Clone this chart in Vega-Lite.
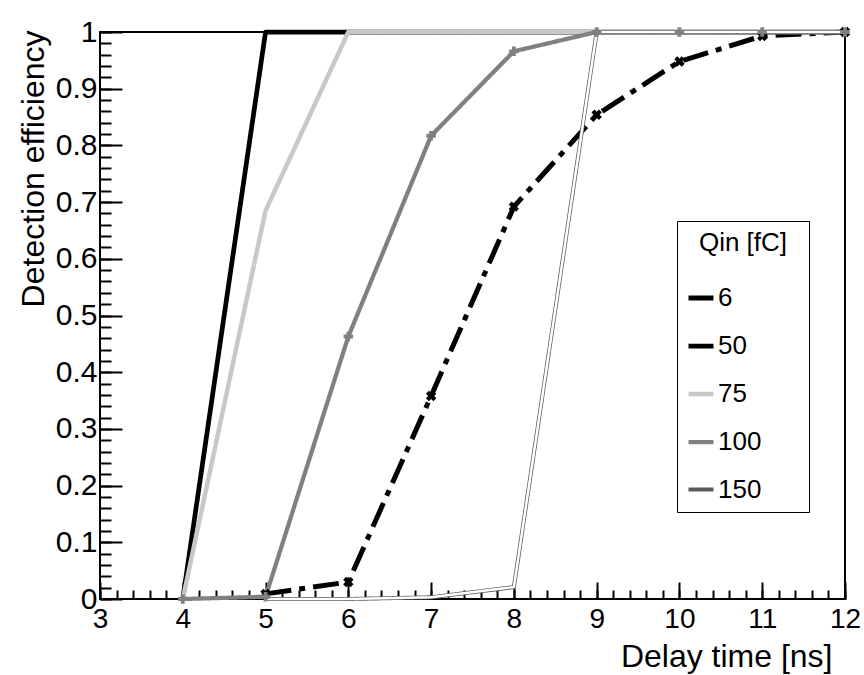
{
  "$schema": "https://vega.github.io/schema/vega-lite/v6.json",
  "width": 745,
  "height": 567,
  "autosize": "none",
  "padding": {"left": 100, "top": 32, "right": 19, "bottom": 76},
  "background": "white",
  "config": {
    "font": "Liberation Sans",
    "view": {"stroke": "black", "strokeWidth": 2}
  },
  "data": {
    "values": [
      {"series": "6", "x": 5, "y": 0.009},
      {"series": "6", "x": 6, "y": 0.03},
      {"series": "6", "x": 7, "y": 0.358},
      {"series": "6", "x": 8, "y": 0.692},
      {"series": "6", "x": 9, "y": 0.854},
      {"series": "6", "x": 10, "y": 0.948},
      {"series": "6", "x": 11, "y": 0.993},
      {"series": "6", "x": 12, "y": 1.0},
      {"series": "50", "x": 4, "y": 0},
      {"series": "50", "x": 5, "y": 1},
      {"series": "50", "x": 6, "y": 1},
      {"series": "50", "x": 7, "y": 1},
      {"series": "50", "x": 8, "y": 1},
      {"series": "50", "x": 9, "y": 1},
      {"series": "50", "x": 10, "y": 1},
      {"series": "50", "x": 11, "y": 1},
      {"series": "50", "x": 12, "y": 1},
      {"series": "75", "x": 4, "y": 0},
      {"series": "75", "x": 5, "y": 0.685},
      {"series": "75", "x": 6, "y": 1},
      {"series": "75", "x": 7, "y": 1},
      {"series": "75", "x": 8, "y": 1},
      {"series": "75", "x": 9, "y": 1},
      {"series": "75", "x": 10, "y": 1},
      {"series": "75", "x": 11, "y": 1},
      {"series": "75", "x": 12, "y": 1},
      {"series": "100", "x": 4, "y": 0},
      {"series": "100", "x": 5, "y": 0.004},
      {"series": "100", "x": 6, "y": 0.463},
      {"series": "100", "x": 7, "y": 0.817},
      {"series": "100", "x": 8, "y": 0.966},
      {"series": "100", "x": 9, "y": 1},
      {"series": "100", "x": 10, "y": 1},
      {"series": "100", "x": 11, "y": 1},
      {"series": "100", "x": 12, "y": 1},
      {"series": "150", "x": 5, "y": 0},
      {"series": "150", "x": 6, "y": 0},
      {"series": "150", "x": 7, "y": 0.003},
      {"series": "150", "x": 8, "y": 0.021},
      {"series": "150", "x": 9, "y": 1},
      {"series": "150", "x": 10, "y": 1},
      {"series": "150", "x": 11, "y": 1},
      {"series": "150", "x": 12, "y": 1}
    ]
  },
  "resolve": {"axis": {"x": "independent", "y": "independent"}},
  "layer": [
    {
      "mark": {"type": "line", "strokeCap": "butt", "strokeJoin": "round"},
      "encoding": {
        "x": {
          "field": "x", "type": "quantitative",
          "scale": {"domain": [3, 12], "nice": false, "zero": false},
          "axis": {
            "orient": "bottom", "title": null, "labels": false, "domain": false, "grid": false,
            "values": [3,3.2,3.4,3.6,3.8,4,4.2,4.4,4.6,4.8,5,5.2,5.4,5.6,5.8,6,6.2,6.4,6.6,6.8,7,7.2,7.4,7.6,7.8,8,8.2,8.4,8.6,8.8,9,9.2,9.4,9.6,9.8,10,10.2,10.4,10.6,10.8,11,11.2,11.4,11.6,11.8,12],
            "tickSize": -9, "tickWidth": 2, "tickColor": "black"
          }
        },
        "y": {
          "field": "y", "type": "quantitative",
          "scale": {"domain": [0, 1], "nice": false},
          "axis": {
            "orient": "left", "title": null, "labels": false, "domain": false, "grid": false,
            "values": [0,0.02,0.04,0.06,0.08,0.1,0.12,0.14,0.16,0.18,0.2,0.22,0.24,0.26,0.28,0.3,0.32,0.34,0.36,0.38,0.4,0.42,0.44,0.46,0.48,0.5,0.52,0.54,0.56,0.58,0.6,0.62,0.64,0.66,0.68,0.7,0.72,0.74,0.76,0.78,0.8,0.82,0.84,0.86,0.88,0.9,0.92,0.94,0.96,0.98,1],
            "tickSize": -11, "tickWidth": 2, "tickColor": "black"
          }
        },
        "color": {
          "field": "series", "type": "nominal",
          "scale": {"domain": ["6", "50", "75", "100", "150"], "range": ["#000000", "#000000", "#c8c8c8", "#808080", "#5c5c5c"]},
          "legend": {
            "orient": "none", "legendX": 577, "legendY": 189,
            "title": "Qin [fC]", "titleFontSize": 26, "titleFontWeight": "normal", "titleColor": "black",
            "titleAnchor": "middle", "titlePadding": 27,
            "labelFontSize": 26, "labelColor": "black", "labelOffset": 2,
            "labelExpr": "datum.label + '\u2800\u2800'",
            "symbolType": "stroke", "symbolSize": 625, "symbolStrokeWidth": 4,
            "rowPadding": 20, "padding": 9,
            "strokeColor": "black", "fillColor": "white"
          }
        },
        "strokeDash": {
          "field": "series", "type": "nominal",
          "scale": {"domain": ["6", "50", "75", "100", "150"], "range": [[26, 8, 6, 8], [1, 0], [1, 0], [1, 0], [1, 0]]},
          "legend": {
            "orient": "none", "legendX": 577, "legendY": 189,
            "title": "Qin [fC]"
          }
        },
        "strokeWidth": {
          "field": "series", "type": "nominal",
          "scale": {"domain": ["6", "50", "75", "100", "150"], "range": [5, 4, 4, 4, 6]},
          "legend": null
        }
      }
    },
    {
      "transform": [{"filter": "datum.series == '150'"}],
      "mark": {"type": "line", "color": "white", "strokeWidth": 2.5, "strokeJoin": "round"},
      "encoding": {
        "x": {
          "field": "x", "type": "quantitative",
          "axis": {
            "orient": "bottom", "title": null, "labels": false, "domain": false, "grid": false,
            "values": [3,4,5,6,7,8,9,10,11,12],
            "tickSize": -17, "tickWidth": 2, "tickColor": "black"
          }
        },
        "y": {
          "field": "y", "type": "quantitative",
          "axis": {
            "orient": "left", "title": null, "labels": false, "domain": false, "grid": false,
            "values": [0,0.1,0.2,0.3,0.4,0.5,0.6,0.7,0.8,0.9,1],
            "tickSize": -22, "tickWidth": 2, "tickColor": "black"
          }
        }
      }
    },
    {
      "transform": [{"filter": "datum.series == '6'"}],
      "mark": {"type": "point", "shape": "cross", "angle": 45, "filled": true, "color": "black", "size": 110, "opacity": 1},
      "encoding": {
        "x": {
          "field": "x", "type": "quantitative",
          "axis": {
            "orient": "bottom", "ticks": false, "domain": false, "grid": false,
            "values": [3,4,5,6,7,8,9,10,11,12],
            "labelFontSize": 28, "labelPadding": 6, "labelColor": "black", "labelFlush": false, "labelOverlap": false,
            "title": "Delay time [ns]", "titleFontSize": 32, "titleFontWeight": "normal", "titleColor": "black",
            "titleAlign": "right", "titleBaseline": "alphabetic", "titleX": 732, "titleY": 67
          }
        },
        "y": {
          "field": "y", "type": "quantitative",
          "axis": {
            "orient": "left", "ticks": false, "domain": false, "grid": false,
            "values": [0,0.1,0.2,0.3,0.4,0.5,0.6,0.7,0.8,0.9,1],
            "format": ".1~f",
            "labelFontSize": 30, "labelPadding": 3, "labelColor": "black", "labelFlush": false, "labelOverlap": false,
            "title": "Detection efficiency", "titleFontSize": 32, "titleFontWeight": "normal", "titleColor": "black",
            "titleAngle": 270, "titleAlign": "right", "titleBaseline": "alphabetic", "titleX": -57, "titleY": -2
          }
        }
      }
    },
    {
      "transform": [{"filter": "datum.series == '100'"}],
      "mark": {"type": "point", "shape": "cross", "filled": true, "color": "#808080", "size": 90, "opacity": 1},
      "encoding": {
        "x": {"field": "x", "type": "quantitative", "axis": null},
        "y": {"field": "y", "type": "quantitative", "axis": null}
      }
    }
  ]
}
